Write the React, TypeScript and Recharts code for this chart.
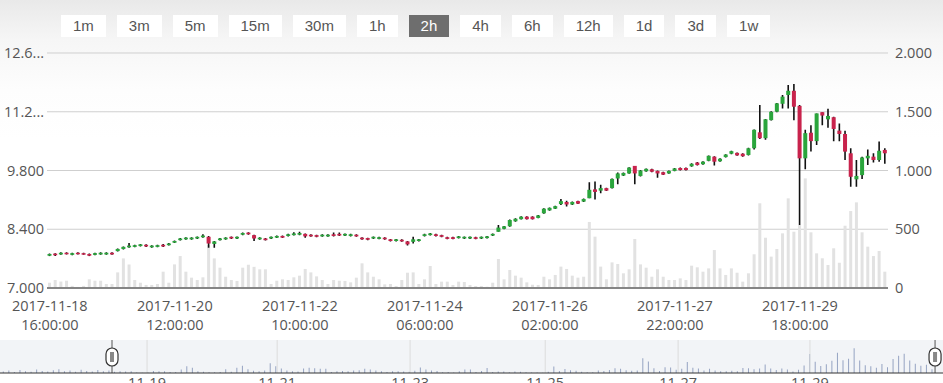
import React from "react";
import {
  ComposedChart, Bar, XAxis, YAxis, CartesianGrid, ReferenceLine,
} from "recharts";

const GREEN = "#2aa53c";
const RED = "#c8234c";
const FONT = "'Open Sans', sans-serif";

const BUTTONS = ["1m", "3m", "5m", "15m", "30m", "1h", "2h", "4h", "6h", "12h", "1d", "3d", "1w"];
const ACTIVE_BUTTON = "2h";

// 2h candles from 2017-11-18 16:00, one slot missing in the feed
const START = Date.UTC(2017, 10, 18, 16);
const GAP_AFTER = 33;

const OPEN = [
  7.77, 7.82, 7.80, 7.84, 7.79, 7.84, 7.83, 7.81, 7.79, 7.80,
  7.80, 7.84, 7.88, 7.93, 7.97, 7.98, 8.00, 8.03, 7.97, 7.98,
  8.03, 8.02, 8.08, 8.14, 8.16, 8.16, 8.18, 8.21, 8.22, 8.05,
  8.14, 8.16, 8.22, 8.18, 8.27, 8.32, 8.26, 8.16, 8.18, 8.18,
  8.20, 8.24, 8.24, 8.26, 8.27, 8.29, 8.27, 8.26, 8.23, 8.23,
  8.28, 8.29, 8.25, 8.24, 8.27, 8.20, 8.19, 8.18, 8.17, 8.20,
  8.16, 8.12, 8.15, 8.11, 8.10, 8.12, 8.24, 8.26, 8.28, 8.26,
  8.21, 8.21, 8.19, 8.18, 8.18, 8.21, 8.18, 8.19, 8.25, 8.34,
  8.41, 8.47, 8.59, 8.64, 8.70, 8.70, 8.67, 8.78, 8.85, 8.89,
  9.00, 9.05, 8.99, 9.07, 9.06, 9.14, 9.35, 9.32, 9.38, 9.38,
  9.61, 9.68, 9.73, 9.91, 9.67, 9.78, 9.83, 9.79, 9.76, 9.73,
  9.79, 9.86, 9.86, 9.90, 9.99, 9.95, 10.03, 10.13, 10.02, 10.12,
  10.20, 10.22, 10.20, 10.17, 10.33, 10.71, 10.57, 11.00, 11.20, 11.39,
  11.60, 11.70, 11.34, 10.09, 10.70, 10.50, 11.19, 11.02, 11.07, 10.75,
  10.67, 10.21, 9.59, 9.69, 10.09, 10.13, 10.05, 10.29,
];
const CLOSE = [
  7.81, 7.78, 7.84, 7.81, 7.83, 7.81, 7.80, 7.77, 7.83, 7.84,
  7.84, 7.80, 7.93, 7.98, 8.01, 8.02, 8.04, 7.99, 8.01, 8.02,
  7.99, 8.06, 8.12, 8.18, 8.20, 8.20, 8.22, 8.25, 8.06, 8.11,
  8.18, 8.20, 8.18, 8.22, 8.31, 8.28, 8.18, 8.20, 8.14, 8.22,
  8.24, 8.20, 8.28, 8.30, 8.31, 8.23, 8.23, 8.22, 8.27, 8.27,
  8.24, 8.25, 8.29, 8.28, 8.23, 8.16, 8.15, 8.22, 8.21, 8.16,
  8.12, 8.16, 8.11, 8.04, 8.16, 8.16, 8.28, 8.30, 8.24, 8.22,
  8.17, 8.17, 8.23, 8.22, 8.22, 8.17, 8.22, 8.23, 8.29, 8.44,
  8.47, 8.62, 8.65, 8.70, 8.64, 8.64, 8.73, 8.89, 8.91, 8.95,
  9.07, 8.99, 9.05, 9.01, 9.12, 9.34, 9.29, 9.38, 9.32, 9.60,
  9.73, 9.74, 9.87, 9.73, 9.80, 9.84, 9.77, 9.73, 9.70, 9.79,
  9.85, 9.81, 9.81, 9.96, 9.93, 10.01, 10.15, 10.01, 10.08, 10.18,
  10.26, 10.16, 10.14, 10.33, 10.77, 10.57, 11.02, 11.20, 11.40, 11.56,
  11.70, 11.32, 10.09, 10.69, 10.50, 11.16, 11.11, 11.10, 10.79, 10.67,
  10.25, 9.65, 9.67, 10.11, 10.15, 10.05, 10.27, 10.21,
];
const HIGH = [
  7.82, 7.83, 7.85, 7.85, 7.84, 7.85, 7.84, 7.82, 7.84, 7.85,
  7.85, 7.85, 7.94, 7.99, 8.07, 8.03, 8.05, 8.04, 8.02, 8.03,
  8.05, 8.07, 8.13, 8.19, 8.21, 8.21, 8.23, 8.28, 8.24, 8.12,
  8.19, 8.21, 8.23, 8.23, 8.32, 8.33, 8.27, 8.21, 8.19, 8.23,
  8.25, 8.25, 8.29, 8.33, 8.34, 8.30, 8.28, 8.27, 8.28, 8.28,
  8.32, 8.32, 8.30, 8.29, 8.28, 8.21, 8.20, 8.23, 8.22, 8.21,
  8.17, 8.17, 8.16, 8.12, 8.22, 8.17, 8.29, 8.31, 8.29, 8.27,
  8.22, 8.22, 8.24, 8.23, 8.23, 8.22, 8.23, 8.24, 8.30, 8.50,
  8.48, 8.63, 8.66, 8.71, 8.71, 8.71, 8.74, 8.90, 8.92, 8.96,
  9.12, 9.08, 9.06, 9.08, 9.13, 9.52, 9.54, 9.46, 9.39, 9.61,
  9.75, 9.75, 9.88, 9.91, 9.81, 9.85, 9.84, 9.80, 9.77, 9.80,
  9.86, 9.87, 9.87, 9.97, 10.00, 10.02, 10.16, 10.14, 10.09, 10.19,
  10.27, 10.23, 10.21, 10.34, 10.78, 11.36, 11.03, 11.21, 11.41, 11.60,
  11.84, 11.86, 11.36, 10.77, 10.88, 11.16, 11.19, 11.27, 11.08, 10.92,
  10.75, 10.33, 10.05, 10.13, 10.30, 10.21, 10.49, 10.33,
];
const LOW = [
  7.76, 7.76, 7.79, 7.80, 7.78, 7.80, 7.79, 7.76, 7.78, 7.79,
  7.79, 7.79, 7.87, 7.92, 7.96, 7.97, 7.99, 7.98, 7.96, 7.97,
  7.98, 8.01, 8.07, 8.13, 8.15, 8.15, 8.17, 8.20, 7.96, 7.96,
  8.13, 8.15, 8.17, 8.17, 8.26, 8.27, 8.12, 8.15, 8.13, 8.17,
  8.19, 8.19, 8.23, 8.25, 8.26, 8.20, 8.22, 8.21, 8.22, 8.22,
  8.23, 8.24, 8.24, 8.23, 8.22, 8.15, 8.14, 8.17, 8.16, 8.15,
  8.11, 8.11, 8.10, 8.01, 8.06, 8.11, 8.23, 8.25, 8.23, 8.21,
  8.16, 8.16, 8.18, 8.17, 8.17, 8.16, 8.17, 8.18, 8.24, 8.34,
  8.40, 8.46, 8.58, 8.63, 8.63, 8.63, 8.66, 8.77, 8.84, 8.88,
  8.98, 8.94, 8.98, 9.00, 9.05, 9.14, 9.11, 9.26, 9.31, 9.37,
  9.47, 9.67, 9.72, 9.47, 9.66, 9.77, 9.76, 9.63, 9.69, 9.72,
  9.78, 9.80, 9.80, 9.89, 9.92, 9.94, 10.02, 9.92, 10.01, 10.11,
  10.19, 10.15, 10.13, 10.16, 10.30, 10.55, 10.53, 10.99, 11.19, 11.28,
  11.28, 11.00, 8.50, 9.83, 10.25, 10.41, 10.88, 10.82, 10.50, 10.50,
  10.05, 9.41, 9.41, 9.60, 9.93, 9.99, 10.01, 9.96,
];
const VOLUME = [
  45, 68, 55, 62, 18, 9, 18, 74, 62, 62,
  34, 34, 133, 252, 201, 68, 45, 26, 26, 34,
  139, 45, 201, 272, 139, 88, 68, 91, 366, 252,
  173, 96, 68, 60, 173, 198, 180, 159, 159, 34,
  62, 74, 68, 91, 105, 162, 133, 99, 68, 34,
  68, 62, 60, 48, 88, 210, 133, 96, 74, 31,
  34, 17, 68, 130, 133, 34, 74, 187, 34, 54,
  54, 26, 54, 51, 26, 17, 17, 11, 45, 247,
  74, 153, 105, 88, 48, 28, 26, 96, 74, 111,
  182, 162, 105, 88, 96, 562, 437, 182, 74, 218,
  204, 125, 159, 417, 201, 173, 96, 159, 96, 68,
  68, 82, 68, 190, 176, 139, 167, 323, 167, 111,
  167, 130, 54, 125, 287, 721, 428, 267, 332, 465,
  763, 479, 536, 933, 474, 295, 253, 196, 338, 215,
  530, 655, 729, 474, 352, 272, 315, 139,
];

// navigator: volume of the 20 candles before the visible window
const NAV_PRE = [60, 90, 40, 110, 70, 50, 130, 80, 60, 100, 140, 70, 90, 50, 120, 80, 60, 110, 70, 90];

const PRICE_TICKS = [7, 8.4, 9.8, 11.2, 12.6];
const PRICE_LABELS = ["7.000", "8.400", "9.800", "11.2...", "12.6..."];
const VOL_TICKS = [0, 500, 1000, 1500, 2000];
const VOL_LABELS = ["0", "500", "1.000", "1.500", "2.000"];
const NAV_TICKS = [5.8, 29.2, 53.1, 77.4, 101.3, 125];
const NAV_LABELS = ["11-19", "11-21", "11-23", "11-25", "11-27", "11-29"];

const fmtTime = (ms: number) => new Date(ms).toISOString().slice(0, 19).replace("T", " ");
const TIMES = OPEN.map((_, i) => fmtTime(START + (i + (i > GAP_AFTER ? 1 : 0)) * 7200000));

const rows = OPEN.map((o, i) => ({
  t: TIMES[i], open: o, close: CLOSE[i], high: HIGH[i], low: LOW[i], vol: VOLUME[i],
}));
const navRows = [
  ...NAV_PRE.map((v, i) => ({ idx: i - NAV_PRE.length, v })),
  ...VOLUME.map((v, i) => ({ idx: i, v })),
];

function Candle(props: any) {
  const { x, y, width, height, payload } = props;
  const { open, close, high, low } = payload;
  const cx = x + width / 2;
  const k = high === low ? 0 : height / (high - low);
  const top = y + (high - Math.max(open, close)) * k;
  const bh = Math.max(Math.abs(open - close) * k, 1.5);
  return (
    <g>
      <line x1={cx} x2={cx} y1={y} y2={y + height} stroke="#111" strokeWidth={1.6} />
      <rect x={cx - 2} y={top} width={4} height={bh} fill={close >= open ? GREEN : RED} />
    </g>
  );
}

function TimeTick({ x, y, payload }: any) {
  const [d, t] = String(payload.value).split(" ");
  return (
    <text x={x} y={y} textAnchor="middle" fill="#555" fontSize={14.5} fontFamily={FONT}>
      <tspan x={x} dy={23}>{d}</tspan>
      <tspan x={x} dy={19}>{t}</tspan>
    </text>
  );
}

// slider handle of the navigator
function Handle(props: any) {
  const { x1, y1, y2 } = props;
  const top = Math.min(y1, y2);
  const bottom = Math.max(y1, y2);
  return (
    <g>
      <line x1={x1} x2={x1} y1={top} y2={bottom} stroke="#555" strokeWidth={1} />
      <rect x={x1 - 6} y={top + 8} width={12} height={18} rx={6} fill="#fff" stroke="#333" strokeWidth={1.2} />
      <rect x={x1 - 2} y={top + 12} width={4} height={10} fill="#888" />
    </g>
  );
}

export default function App() {
  return (
    <div
      style={{
        position: "relative", width: 943, height: 383, overflow: "hidden", fontFamily: FONT,
        background: "linear-gradient(#e9e9e9 0px, #f6f6f6 40px, #fdfdfd 90px, #ffffff 140px)",
      }}
    >
      <style>{"body{margin:0}"}</style>
      <div style={{ position: "absolute", top: 15, left: 61, display: "flex", gap: 11 }}>
        {BUTTONS.map((b) => (
          <div
            key={b}
            style={{
              height: 22, lineHeight: "22px", padding: "0 12px", fontSize: 15,
              fontFamily: "'Liberation Sans', Arial, sans-serif",
              background: b === ACTIVE_BUTTON ? "#6e6e6e" : "#fff",
              color: b === ACTIVE_BUTTON ? "#fff" : "#555",
            }}
          >
            {b}
          </div>
        ))}
      </div>

      <div style={{ position: "absolute", top: 0, left: 0 }}>
        <ComposedChart width={943} height={340} data={rows} margin={{ top: 53, right: 0, bottom: 0, left: 0 }}>
          <CartesianGrid vertical={false} stroke="#cfcfcf" />
          <XAxis
            dataKey="t" interval={21} height={52} tickLine={false} tickSize={0} tickMargin={0}
            axisLine={{ stroke: "#666", strokeWidth: 1.5 }} tick={<TimeTick />}
          />
          <XAxis xAxisId="v" dataKey="t" hide />
          <YAxis
            domain={[7, 12.6]} ticks={PRICE_TICKS} allowDataOverflow width={47}
            axisLine={false} tickLine={false} tickSize={3} tickMargin={0}
            tickFormatter={(v: number) => PRICE_LABELS[PRICE_TICKS.indexOf(v)] ?? String(v)}
            tick={{ fill: "#555", fontSize: 14.5, fontFamily: FONT }}
          />
          <YAxis
            yAxisId="v" orientation="right" domain={[0, 2000]} ticks={VOL_TICKS} width={55}
            axisLine={false} tickLine={false} tickSize={0} tickMargin={7}
            tickFormatter={(v: number) => VOL_LABELS[VOL_TICKS.indexOf(v)] ?? String(v)}
            tick={{ fill: "#555", fontSize: 14.5, fontFamily: FONT }}
          />
          <Bar xAxisId="v" yAxisId="v" dataKey="vol" fill="#e2e2e2" barSize={3} isAnimationActive={false} />
          <Bar
            dataKey={(d: any) => [d.low, d.high]} barSize={5} shape={<Candle />}
            isAnimationActive={false}
          />
        </ComposedChart>
      </div>

      <div style={{ position: "absolute", top: 340, left: 0, width: 943, height: 33, background: "#f2f4f7" }} />
      <div style={{ position: "absolute", top: 340, left: 0 }}>
        <ComposedChart width={943} height={60} data={navRows} margin={{ top: 0, right: 0, bottom: 0, left: 0 }}>
          <XAxis
            type="number" dataKey="idx" domain={[-20.64, 148.93]} allowDataOverflow ticks={NAV_TICKS}
            height={27} tickLine={false} tickSize={0} tickMargin={5}
            axisLine={{ stroke: "#333", strokeWidth: 1 }}
            tickFormatter={(v: number) => NAV_LABELS[NAV_TICKS.indexOf(v)] ?? ""}
            tick={{ fill: "#555", fontSize: 14.5, fontFamily: FONT }}
          />
          <YAxis hide domain={[0, 1250]} />
          {NAV_TICKS.map((t) => (
            <ReferenceLine key={t} x={t} stroke="#dcdcdc" />
          ))}
          <Bar dataKey="v" fill="#95a3c2" barSize={1} isAnimationActive={false} />
          <ReferenceLine x={-0.5} shape={<Handle />} />
          <ReferenceLine x={147.5} shape={<Handle />} />
        </ComposedChart>
      </div>
    </div>
  );
}
